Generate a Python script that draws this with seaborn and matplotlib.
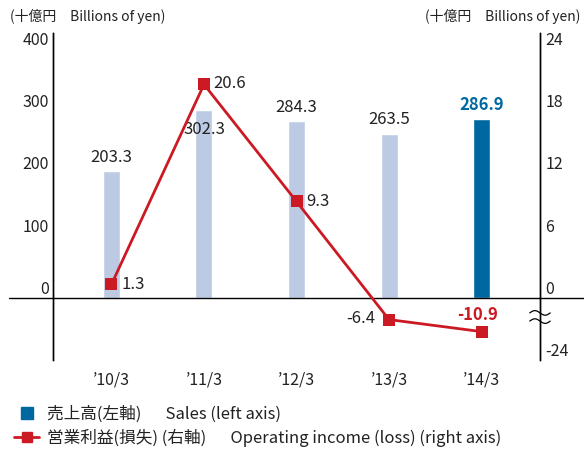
import numpy as np
import pandas as pd
import matplotlib
matplotlib.use("Agg")
import matplotlib.pyplot as plt
from matplotlib.lines import Line2D
import seaborn as sns

years = ["’10/3", "’11/3", "’12/3", "’13/3", "’14/3"]
sales = [203.3, 302.3, 284.3, 263.5, 286.9]
income = [1.3, 20.6, 9.3, -6.4, -10.9]
sales_ticks = [0, 100, 200, 300, 400]
income_ticks = [-24, 0, 6, 12, 18, 24]

LIGHT = "#bccbe3"
BLUE = "#0068a0"
RED = "#cc1a24"

sns.set_theme(style="white")
plt.rcParams["font.family"] = ["Noto Sans CJK JP", "DejaVu Sans"]

df = pd.DataFrame({"year": years, "sales": sales, "income": income})

fig = plt.figure(figsize=(5.84, 4.5), dpi=100)
ax = fig.add_axes([53 / 584, 1 - 360 / 450, 487 / 584, 327 / 450])

sns.barplot(data=df, x="year", y="sales", hue="year",
            palette=[LIGHT] * 4 + [BLUE], legend=False,
            width=0.184, saturation=1, ax=ax)
ax.set_xlim(-0.632, 4.632)
ax.set_ylim(-100, 426)
ax.set_yticks(sales_ticks)
ax.set_xlabel("")
ax.set_ylabel("")

# right axis: linear above zero, squeezed below zero (axis break)
kx = [-24, -10.9, -6.4, 0]
ky = [-6.0, -3.26, -2.1, 0]


def fwd(y):
    y = np.asarray(y, dtype=float)
    return np.where(y < 0, np.interp(y, kx, ky), y)


def inv(y):
    y = np.asarray(y, dtype=float)
    return np.where(y < 0, np.interp(y, ky, kx), y)


ax2 = ax.twinx()
ax2.set_yscale("function", functions=(fwd, inv))
sns.lineplot(x=np.arange(len(years)), y=income, ax=ax2, color=RED,
             lw=2, marker="s", markersize=8, markeredgewidth=0, zorder=5)
ax2.set_ylim(-24, 426 / 400 * 24)
ax2.set_yticks(income_ticks)
ax2.set_yticklabels([str(t) for t in income_ticks])
ax.set_xlim(-0.632, 4.632)

for a in (ax, ax2):
    for s in ("top", "bottom"):
        a.spines[s].set_visible(False)
    a.spines["left"].set_color("black")
    a.spines["right"].set_color("black")
    a.spines["left"].set_linewidth(1)
    a.spines["right"].set_linewidth(1)
    a.grid(False)
    a.set_facecolor("none")

ax.tick_params(axis="y", length=0, pad=3, labelsize=11.5, colors="#222222")
ax2.tick_params(axis="y", length=0, pad=4, labelsize=11.5, colors="#222222")
ax.tick_params(axis="x", length=0, pad=8, labelsize=11.5, colors="#222222")

for a in (ax, ax2):
    for t in a.yaxis.get_major_ticks():
        t.label1.set_verticalalignment("bottom")
        t.label2.set_verticalalignment("bottom")

# zero line running past both spines
ax.axhline(0, xmin=-0.09, xmax=1.1, color="black", lw=1, clip_on=False)

# axis break marks on right spine
bx = np.linspace(-0.021, 0.021, 30)
for by in (0.144, 0.119):
    ax.plot(1 + bx, by + 0.007 * np.sin((bx + 0.021) / 0.042 * 2 * np.pi),
            transform=ax.transAxes, color="black", lw=0.9, clip_on=False)

# sales labels
sales_off = [(0, 4, "bottom"), (0, -8, "top"), (0, 4, "bottom"),
             (0, 4, "bottom"), (0, 4, "bottom")]
for i, (v, (dx, dy, va)) in enumerate(zip(sales, sales_off)):
    last = i == len(sales) - 1
    ax.annotate(f"{v:.1f}", (i, v), xytext=(dx, dy), textcoords="offset points",
                ha="center", va=va, fontsize=12,
                color=BLUE if last else "#222222",
                fontweight="bold" if last else "normal")

# income labels
inc_off = [(7, 0, "left"), (7, 1, "left"), (7, 0, "left"), (-10, 1, "right"),
           (-3, 12, "center")]
for i, (v, (dx, dy, ha)) in enumerate(zip(income, inc_off)):
    last = i == len(income) - 1
    ax2.annotate(f"{v:.1f}", (i, v), xytext=(dx, dy), textcoords="offset points",
                 ha=ha, va="center", fontsize=12, zorder=6,
                 color=RED if last else "#222222",
                 fontweight="bold" if last else "normal")

fig.text(10 / 584, 1 - 16 / 450, "(十億円　Billions of yen)", fontsize=10,
         ha="left", va="center", color="#222222")
fig.text(580 / 584, 1 - 16 / 450, "(十億円　Billions of yen)", fontsize=10,
         ha="right", va="center", color="#222222")

handles = [
    Line2D([], [], ls="none", marker="s", markersize=9, color=BLUE),
    Line2D([], [], lw=2, marker="s", markersize=7, color=RED),
]
labels = ["売上高(左軸)　  Sales (left axis)",
          "営業利益(損失) (右軸)　  Operating income (loss) (right axis)"]
fig.legend(handles, labels, loc="upper left", bbox_to_anchor=(6 / 584, 1 - 397 / 450),
           frameon=False, fontsize=12, handlelength=1.5, handletextpad=0.45,
           labelspacing=0.4, borderpad=0, labelcolor="#222222")

fig.savefig("out.png", dpi=100)
